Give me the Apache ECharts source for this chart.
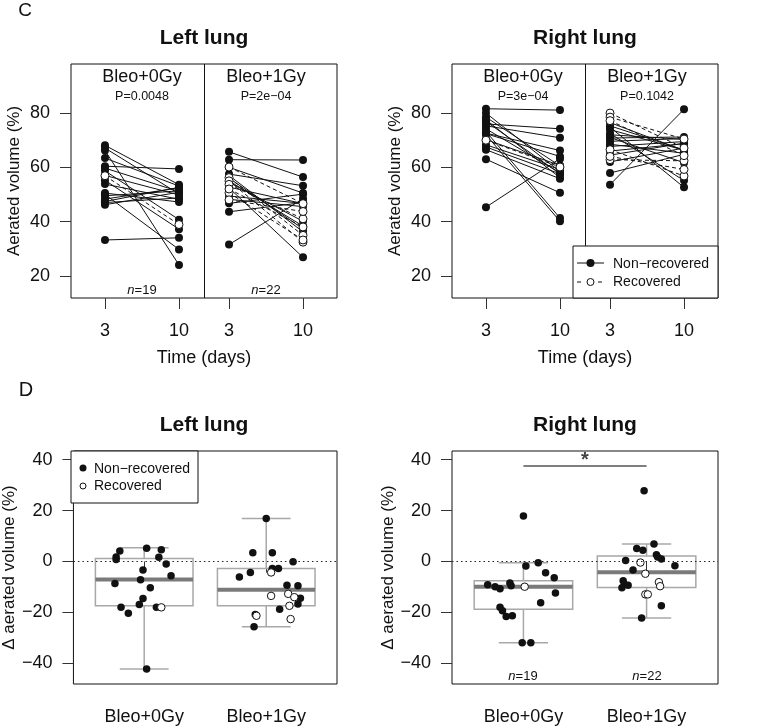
<!DOCTYPE html>
<html>
<head>
<meta charset="utf-8">
<script src="https://cdn.jsdelivr.net/npm/echarts@6/dist/echarts.min.js"></script>
<style>
  html, body, #main { width: 100%; height: 100%; margin: 0; background: #fff; }
</style>
</head>
<body>
<div id="main"></div>
<script>
// ---- values ----
var groups = ['Bleo+0Gy', 'Bleo+1Gy'];
var dayLabels = ['3', '10'];
var yTicksC = [20, 40, 60, 80];
var yTicksD = [-40, -20, 0, 20, 40];

// left lung
var l0Day3  = [66.2, 33.2, 56.9, 60.4, 50.0, 47.4, 46.2, 48.3, 49.5, 47.0, 55.2, 58.7, 68.1, 67.1, 63.4, 59.7, 53.8, 50.5, 57.0];
var l0Day10 = [24.0, 34.0, 38.9, 59.4, 29.7, 52.6, 50.8, 52.4, 51.3, 48.7, 37.2, 40.7, 53.6, 50.2, 53.1, 51.1, 48.2, 47.2, 49.8];
var l0Rec   = [0, 0, 1, 0, 0, 0, 0, 0, 0, 0, 0, 0, 0, 0, 0, 0, 0, 0, 0];
var l0Jit   = [0.02, -0.23, 0.14, 0.18, -0.13, 0.02, 0.14, -0.20, -0.23, 0.12, -0.19, 0.10, -0.01, -0.04, 0.05, -0.24, 0.22, -0.01, -0.03];

var l1Day3  = [31.5, 62.8, 65.7, 52.4, 46.7, 43.6, 48.2, 49.4, 57.5, 52.7, 60.0, 54.5, 55.0, 56.0, 57.0, 60.1, 56.2, 55.0, 53.7, 50.6, 48.0, 52.0];
var l1Day10 = [48.4, 62.7, 56.4, 26.8, 50.1, 47.0, 45.5, 46.7, 53.2, 46.6, 50.5, 40.1, 38.3, 37.3, 36.2, 46.6, 34.9, 32.4, 41.0, 33.2, 43.7, 38.0];
var l1Rec   = [0, 0, 0, 0, 0, 0, 0, 0, 0, 0, 0, 0, 0, 0, 0, 1, 1, 1, 1, 1, 1, 1];
var l1Jit   = [0.00, 0.22, 0.17, -0.10, -0.11, 0.05, 0.05, 0.10, -0.13, -0.22, 0.26, 0.28, 0.26, 0.11, -0.09, 0.04, -0.08, 0.20, 0.18, 0.19, 0.04, 0.23];

// right lung
var r0Day3  = [45.3, 81.6, 76.0, 75.3, 72.6, 72.4, 70.2, 68.3, 67.5, 66.5, 70.0, 63.0, 74.2, 78.5, 76.9, 80.0, 77.5, 73.2, 72.0];
var r0Day10 = [63.2, 81.1, 74.2, 70.9, 66.2, 64.0, 60.7, 59.2, 57.6, 55.8, 60.1, 50.6, 58.0, 60.5, 57.6, 58.4, 56.2, 41.3, 40.1];
var r0Rec   = [0, 0, 0, 0, 0, 0, 0, 0, 0, 0, 1, 0, 0, 0, 0, 0, 0, 0, 0];
var r0Jit   = [0.00, 0.12, 0.02, 0.18, 0.25, -0.11, -0.10, -0.29, -0.23, -0.19, 0.01, 0.26, 0.14, -0.19, -0.17, -0.14, -0.09, -0.01, 0.06];

var r1Day3  = [53.6, 57.9, 62.0, 64.5, 66.0, 67.7, 69.6, 70.8, 72.0, 68.5, 73.9, 75.3, 71.0, 76.5, 72.5, 74.8, 80.0, 78.5, 62.8, 66.5, 77.2, 64.0];
var r1Day10 = [81.4, 64.8, 67.1, 68.9, 68.7, 69.5, 70.6, 71.2, 70.3, 65.2, 66.3, 66.4, 61.7, 66.2, 55.1, 52.6, 67.1, 70.4, 62.4, 56.8, 64.3, 59.2];
var r1Rec   = [0, 0, 0, 0, 0, 0, 0, 0, 0, 0, 0, 0, 0, 0, 0, 0, 1, 1, 1, 1, 1, 1];
var r1Jit   = [-0.02, 0.06, -0.08, -0.03, 0.08, 0.09, 0.12, -0.17, 0.23, -0.11, -0.19, -0.18, -0.15, -0.20, 0.12, -0.04, -0.01, 0.10, -0.05, 0.11, 0.01, -0.01];

var pLeft  = ['P=0.0048', 'P=2e\u221204'];
var pRight = ['P=3e\u221204', 'P=0.1042'];
var nLabels = [19, 22];

// box stats: [lower whisker, Q1, median, Q3, upper whisker]
var boxLeft  = [[-42.2, -17.4, -7.1, 1.2, 5.4], [-25.6, -17.4, -11.1, -2.7, 16.9]];
var boxRight = [[-31.9, -18.7, -9.9, -7.6, -0.5], [-22.2, -10.2, -4.2, 2.2, 6.9]];
var sigBarY = 37.5;

// ---- layout ----
var FONT = 'Liberation Sans';
var INK = '#111';
var xPosC = [[1, 2], [2.676, 3.676]];
var xTicksC = [1, 2, 2.676, 3.676];
var dividerC = 2.338;

var leftSets  = [{d3: l0Day3, d10: l0Day10, rec: l0Rec, jit: l0Jit}, {d3: l1Day3, d10: l1Day10, rec: l1Rec, jit: l1Jit}];
var rightSets = [{d3: r0Day3, d10: r0Day10, rec: r0Rec, jit: r0Jit}, {d3: r1Day3, d10: r1Day10, rec: r1Rec, jit: r1Jit}];

var grids = [
  {left: 71,  top: 64,  width: 266, height: 234},
  {left: 452, top: 64,  width: 266, height: 234},
  {left: 71,  top: 451, width: 266, height: 233},
  {left: 452, top: 451, width: 266, height: 233}
].map(function (g) {
  g.show = true; g.borderColor = INK; g.borderWidth = 1; g.backgroundColor = 'transparent';
  return g;
});

function minus(v) { return String(v).replace('-', '\u2212'); }

function yAxisC(gi, name) {
  return {
    type: 'value', gridIndex: gi, min: 11.8, max: 98.1,
    name: name, nameLocation: 'middle', nameGap: 48,
    nameTextStyle: {fontFamily: FONT, fontSize: 17, color: INK},
    axisLine: {show: false}, splitLine: {show: false},
    axisTick: {show: true, length: 11, customValues: yTicksC, lineStyle: {color: '#333'}},
    axisLabel: {customValues: yTicksC, margin: 21, fontFamily: FONT, fontSize: 18, color: INK, formatter: minus}
  };
}
function yAxisD(gi, name) {
  return {
    type: 'value', gridIndex: gi, min: -48.1, max: 43.4,
    name: name, nameLocation: 'middle', nameGap: 48,
    nameTextStyle: {fontFamily: FONT, fontSize: 17, color: INK},
    axisLine: {show: false}, splitLine: {show: false},
    axisTick: {show: true, length: 11, customValues: yTicksD, lineStyle: {color: '#333'}},
    axisLabel: {customValues: yTicksD, margin: 21, fontFamily: FONT, fontSize: 18, color: INK, formatter: minus}
  };
}
function xAxisC(gi) {
  return {
    type: 'value', gridIndex: gi, min: 0.541, max: 4.135,
    name: 'Time (days)', nameLocation: 'middle', nameGap: 51,
    nameTextStyle: {fontFamily: FONT, fontSize: 18, color: INK},
    axisLine: {show: false}, splitLine: {show: false},
    axisTick: {show: true, length: 11, customValues: xTicksC, lineStyle: {color: '#333'}},
    axisLabel: {customValues: xTicksC, margin: 24, fontFamily: FONT, fontSize: 18, color: INK,
      formatter: function (v) { return dayLabels[xTicksC.indexOf(v) % 2]; }}
  };
}
function xAxisD(gi) {
  return {
    type: 'value', gridIndex: gi, min: 0.42, max: 2.58,
    axisLine: {show: false}, splitLine: {show: false},
    axisTick: {show: true, length: 11, customValues: [1, 2], lineStyle: {color: '#333'}},
    axisLabel: {customValues: [1, 2], margin: 24, fontFamily: FONT, fontSize: 18, color: INK,
      formatter: function (v) { return groups[v - 1]; }}
  };
}

function pairSeries(gi, sets) {
  var segs = [], filled = [], open = [];
  sets.forEach(function (s, g) {
    var xa = xPosC[g][0], xb = xPosC[g][1];
    s.d3.forEach(function (v, i) {
      var rec = s.rec[i];
      segs.push({coords: [[xa, v], [xb, s.d10[i]]], lineStyle: {type: rec ? [4, 3] : 'solid'}});
      (rec ? open : filled).push([xa, v], [xb, s.d10[i]]);
    });
  });
  return [
    {type: 'lines', coordinateSystem: 'cartesian2d', xAxisIndex: gi, yAxisIndex: gi, silent: true,
     data: segs, lineStyle: {color: INK, width: 1, opacity: 1}},
    {type: 'scatter', xAxisIndex: gi, yAxisIndex: gi, silent: true, data: filled, symbolSize: 8,
     itemStyle: {color: INK, opacity: 1},
     markLine: {silent: true, symbol: 'none', label: {show: false},
       lineStyle: {color: INK, type: 'solid', width: 1}, data: [{xAxis: dividerC}]}},
    {type: 'scatter', xAxisIndex: gi, yAxisIndex: gi, silent: true, data: open, symbolSize: 8,
     itemStyle: {color: '#fff', borderColor: INK, borderWidth: 1, opacity: 1}}
  ];
}

function renderBox(params, api) {
  var x = api.value(0);
  var lo = api.coord([x, api.value(1)]);
  var q1 = api.coord([x, api.value(2)]);
  var md = api.coord([x, api.value(3)]);
  var q3 = api.coord([x, api.value(4)]);
  var hi = api.coord([x, api.value(5)]);
  var bw = api.size([0.8, 0])[0], cw = api.size([0.4, 0])[0];
  var cx = lo[0];
  var st = {stroke: '#a8a8a8', lineWidth: 1.5, fill: null};
  return {type: 'group', children: [
    {type: 'line', shape: {x1: cx, y1: hi[1], x2: cx, y2: q3[1]}, style: st},
    {type: 'line', shape: {x1: cx, y1: q1[1], x2: cx, y2: lo[1]}, style: st},
    {type: 'line', shape: {x1: cx - cw / 2, y1: hi[1], x2: cx + cw / 2, y2: hi[1]}, style: st},
    {type: 'line', shape: {x1: cx - cw / 2, y1: lo[1], x2: cx + cw / 2, y2: lo[1]}, style: st},
    {type: 'rect', shape: {x: cx - bw / 2, y: q3[1], width: bw, height: q1[1] - q3[1]}, style: st},
    {type: 'line', shape: {x1: cx - bw / 2, y1: md[1], x2: cx + bw / 2, y2: md[1]},
     style: {stroke: '#7a7a7a', lineWidth: 4}}
  ]};
}

function deltaSeries(gi, sets, boxes) {
  var filled = [], open = [];
  sets.forEach(function (s, g) {
    s.d3.forEach(function (v, i) {
      var pt = [g + 1 + s.jit[i], Math.round((s.d10[i] - v) * 10) / 10];
      (s.rec[i] ? open : filled).push(pt);
    });
  });
  return [
    {type: 'custom', xAxisIndex: gi, yAxisIndex: gi, silent: true, renderItem: renderBox,
     encode: {x: 0, y: [1, 2, 3, 4, 5]},
     data: boxes.map(function (b, g) { return [g + 1].concat(b); })},
    {type: 'scatter', xAxisIndex: gi, yAxisIndex: gi, silent: true, data: filled, symbolSize: 7.5,
     itemStyle: {color: INK, opacity: 1},
     markLine: {silent: true, symbol: 'none', label: {show: false},
       lineStyle: {color: '#222', type: [1.5, 3], width: 1}, data: [{yAxis: 0}]}},
    {type: 'scatter', xAxisIndex: gi, yAxisIndex: gi, silent: true, data: open, symbolSize: 7.5,
     itemStyle: {color: '#fff', borderColor: INK, borderWidth: 1, opacity: 1}}
  ];
}

function txt(x, y, s, size, extra) {
  var style = {x: x, y: y, text: s, fontFamily: FONT, fontSize: size, fill: INK,
               align: 'center', verticalAlign: 'middle'};
  for (var k in extra) style[k] = extra[k];
  return {type: 'text', z: 100, style: style};
}
function nTxt(x, y, n) {
  return {type: 'text', z: 100, style: {x: x, y: y, text: '{i|n}=' + n, fontFamily: FONT, fontSize: 13,
    fill: INK, align: 'center', verticalAlign: 'middle',
    rich: {i: {fontStyle: 'italic', fontFamily: FONT, fontSize: 13, fill: INK}}}};
}

var series = []
  .concat(pairSeries(0, leftSets))
  .concat(pairSeries(1, rightSets))
  .concat(deltaSeries(2, leftSets, boxLeft))
  .concat(deltaSeries(3, rightSets, boxRight));

// significance bar in the right-lung delta panel
series.push({type: 'line', xAxisIndex: 3, yAxisIndex: 3, silent: true, symbol: 'none',
  data: [[1, sigBarY], [2, sigBarY]], lineStyle: {color: '#555', width: 1.5}});
series.push({type: 'scatter', xAxisIndex: 3, yAxisIndex: 3, silent: true, symbolSize: 0,
  data: [[1.5, sigBarY]],
  label: {show: true, formatter: '*', position: 'top', distance: -4, fontFamily: FONT,
    fontSize: 20, fontWeight: 'bold', color: INK}});

var graphic = [
  txt(25, 11, 'C', 19, {}),
  txt(26, 390, 'D', 20, {}),
  txt(204, 38, 'Left lung', 21, {fontWeight: 'bold'}),
  txt(585, 38, 'Right lung', 21, {fontWeight: 'bold'}),
  txt(204, 425, 'Left lung', 21, {fontWeight: 'bold'}),
  txt(585, 425, 'Right lung', 21, {fontWeight: 'bold'}),

  txt(142, 77, groups[0], 18, {}), txt(266, 77, groups[1], 18, {}),
  txt(523, 77, groups[0], 18, {}), txt(647, 77, groups[1], 18, {}),
  txt(142, 97, pLeft[0], 12.5, {}), txt(266, 97, pLeft[1], 12.5, {}),
  txt(523, 97, pRight[0], 12.5, {}), txt(647, 97, pRight[1], 12.5, {}),
  nTxt(142, 290, nLabels[0]), nTxt(266, 290, nLabels[1]),
  nTxt(523, 676, nLabels[0]), nTxt(647, 676, nLabels[1]),

  // legend, top-right panel
  {type: 'rect', z: 99, shape: {x: 573, y: 246, width: 145, height: 52},
   style: {fill: '#fff', stroke: INK, lineWidth: 1}},
  {type: 'line', z: 100, shape: {x1: 577, y1: 263, x2: 604, y2: 263}, style: {stroke: INK, lineWidth: 1}},
  {type: 'circle', z: 100, shape: {cx: 590.5, cy: 263, r: 4}, style: {fill: INK}},
  {type: 'line', z: 100, shape: {x1: 577, y1: 282, x2: 604, y2: 282},
   style: {stroke: INK, lineWidth: 1, lineDash: [4, 6.5]}},
  {type: 'circle', z: 100, shape: {cx: 590.5, cy: 282, r: 3.5}, style: {fill: '#fff', stroke: INK, lineWidth: 1}},
  txt(613, 264, 'Non\u2212recovered', 14, {align: 'left'}),
  txt(613, 282, 'Recovered', 14, {align: 'left'}),

  // legend, left delta panel
  {type: 'rect', z: 99, shape: {x: 71, y: 451, width: 127, height: 52},
   style: {fill: '#fff', stroke: INK, lineWidth: 1}},
  {type: 'circle', z: 100, shape: {cx: 83, cy: 468, r: 3.5}, style: {fill: INK}},
  {type: 'circle', z: 100, shape: {cx: 83, cy: 486, r: 3}, style: {fill: '#fff', stroke: INK, lineWidth: 1}},
  txt(94, 469, 'Non\u2212recovered', 14, {align: 'left'}),
  txt(94, 486, 'Recovered', 14, {align: 'left'})
];

var chart = echarts.init(document.getElementById('main'));
chart.setOption({
  animation: false,
  backgroundColor: '#fff',
  grid: grids,
  xAxis: [xAxisC(0), xAxisC(1), xAxisD(2), xAxisD(3)],
  yAxis: [yAxisC(0, 'Aerated volume (%)'), yAxisC(1, 'Aerated volume (%)'),
          yAxisD(2, '\u0394 aerated volume (%)'), yAxisD(3, '\u0394 aerated volume (%)')],
  series: series,
  graphic: graphic
});
window.onresize = chart.resize;
</script>
</body>
</html>
